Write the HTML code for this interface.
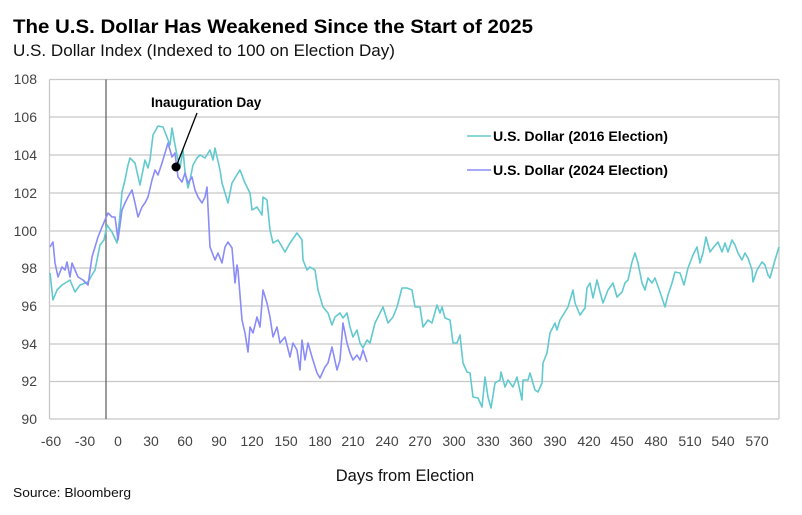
<!DOCTYPE html>
<html><head><meta charset="utf-8"><style>
body{margin:0;background:#fff;}
svg{display:block;font-family:"Liberation Sans",Arial,sans-serif;}
</style></head><body>
<svg width="802" height="515" viewBox="0 0 802 515" xmlns="http://www.w3.org/2000/svg">
<text x="13" y="33" font-size="19.5" font-weight="bold" fill="#000" textLength="520" lengthAdjust="spacingAndGlyphs">The U.S. Dollar Has Weakened Since the Start of 2025</text>
<text x="13" y="56" font-size="16.5" fill="#111" textLength="382" lengthAdjust="spacingAndGlyphs">U.S. Dollar Index (Indexed to 100 on Election Day)</text>
<g stroke="#c8c8c8" stroke-width="1.3">
<line x1="49.5" y1="79.5" x2="779" y2="79.5"/>
<line x1="49.5" y1="117" x2="779" y2="117"/>
<line x1="49.5" y1="155" x2="779" y2="155"/>
<line x1="49.5" y1="193" x2="779" y2="193"/>
<line x1="49.5" y1="231" x2="779" y2="231"/>
<line x1="49.5" y1="268" x2="779" y2="268"/>
<line x1="49.5" y1="306" x2="779" y2="306"/>
<line x1="49.5" y1="344" x2="779" y2="344"/>
<line x1="49.5" y1="381.5" x2="779" y2="381.5"/>
<line x1="49.5" y1="419" x2="779" y2="419"/>
<line x1="49.5" y1="79.5" x2="49.5" y2="419"/>
<line x1="779" y1="79.5" x2="779" y2="419"/>
</g>
<line x1="106" y1="79.5" x2="106" y2="419" stroke="#666" stroke-width="1.3"/>
<g font-size="14" fill="#444" text-anchor="end">
<text x="37" y="84">108</text><text x="37" y="122">106</text><text x="37" y="160">104</text>
<text x="37" y="198">102</text><text x="37" y="236">100</text><text x="37" y="273">98</text>
<text x="37" y="311">96</text><text x="37" y="349">94</text><text x="37" y="386">92</text><text x="37" y="424">90</text>
</g>
<g font-size="14" fill="#444" text-anchor="middle">
<text x="51" y="446">-60</text><text x="85" y="446">-30</text><text x="118" y="446">0</text>
<text x="151" y="446">30</text><text x="185" y="446">60</text><text x="219" y="446">90</text>
<text x="252" y="446">120</text><text x="286" y="446">150</text><text x="320" y="446">180</text>
<text x="353" y="446">210</text><text x="387" y="446">240</text><text x="420" y="446">270</text>
<text x="454" y="446">300</text><text x="488" y="446">330</text><text x="521" y="446">360</text>
<text x="555" y="446">390</text><text x="589" y="446">420</text><text x="622" y="446">450</text>
<text x="656" y="446">480</text><text x="690" y="446">510</text><text x="723" y="446">540</text><text x="757" y="446">570</text>
</g>
<text x="405" y="481" font-size="16.5" fill="#111" text-anchor="middle">Days from Election</text>
<text x="13" y="497" font-size="13" fill="#111" textLength="118" lengthAdjust="spacingAndGlyphs">Source: Bloomberg</text>
<polyline fill="none" stroke="#62c9cf" stroke-width="1.6" stroke-linejoin="round" points="50,273 53,300 57,290 62,285 70,280 75,292 80,285 88,282 92,275 95,270 100,245 104,240 107,225 112,232 117,243 120,215 122,192 125,180 128,165 130,158 135,163 140,185 145,160 148,168 150,160 153,135 158,126 163,127 165,132 170,145 172,128 175,145 178,160 180,168 183,150 185,172 188,188 190,180 193,165 197,158 200,155 205,158 210,150 213,160 215,148 220,170 222,183 225,193 228,203 232,183 238,173 240,170 245,183 250,193 252,210 257,207 262,215 263,197 267,200 270,230 273,243 278,240 285,252 290,243 297,233 302,240 303,260 307,270 310,267 315,270 318,290 323,307 328,313 332,325 335,317 340,313 343,318 347,313 350,327 353,337 357,330 360,343 363,348 367,340 370,343 375,323 380,313 383,307 388,323 393,317 397,307 402,288 407,288 412,290 415,307 420,307 423,327 428,320 432,323 437,305 440,313 442,307 445,318 450,320 453,343 457,343 460,335 463,363 467,372 470,373 473,397 478,398 482,407 485,377 488,397 491,408 495,383 500,380 501,372 505,387 508,380 513,387 517,377 522,400 523,380 528,380 530,373 535,390 538,392 542,383 543,363 547,353 550,333 555,323 557,330 560,320 565,312 568,307 573,290 575,303 580,315 585,308 587,288 590,283 593,298 597,280 600,292 603,303 608,290 613,283 617,297 622,292 625,283 628,280 632,262 635,253 638,263 642,283 645,290 648,278 652,283 655,278 660,292 665,307 668,295 672,283 675,272 680,273 684,285 688,268 693,255 697,247 700,263 703,253 706,237 710,252 713,248 718,242 722,252 725,243 728,252 732,240 735,245 738,253 742,260 745,253 748,258 752,270 753,282 757,270 762,262 765,265 768,275 770,278 775,260 779,247"/>
<polyline fill="none" stroke="#8a8cf7" stroke-width="1.6" stroke-linejoin="round" points="50,247 53,242 55,263 58,277 62,267 65,270 67,262 70,277 72,263 75,270 78,277 83,280 88,285 92,257 95,247 98,237 102,227 105,220 108,213 112,217 115,217 118,240 122,210 125,203 128,197 132,190 135,203 138,217 142,207 145,203 148,197 152,180 155,170 158,175 162,163 165,153 168,143 172,157 175,153 178,177 182,182 185,173 188,183 192,177 195,190 198,197 202,203 205,197 207,187 210,247 215,260 218,253 222,263 225,247 228,242 232,248 235,283 237,265 238,270 242,320 245,333 248,352 250,327 253,333 257,317 260,327 263,290 267,303 270,317 273,337 277,327 280,343 285,337 290,357 293,343 297,350 300,370 302,340 305,360 308,343 312,357 317,373 320,378 325,367 328,363 332,347 337,370 340,360 343,323 347,343 350,353 353,360 357,355 360,360 363,350 367,362"/>
<line x1="176" y1="167" x2="197" y2="113" stroke="#000" stroke-width="1.3"/>
<circle cx="176" cy="167" r="4.5" fill="#000"/>
<text x="151" y="107" font-size="13.5" font-weight="bold" fill="#000">Inauguration Day</text>
<line x1="467" y1="136" x2="491" y2="136" stroke="#62c9cf" stroke-width="1.6"/>
<text x="493" y="141" font-size="14" font-weight="bold" fill="#000" textLength="175" lengthAdjust="spacingAndGlyphs">U.S. Dollar (2016 Election)</text>
<line x1="467" y1="170" x2="491" y2="170" stroke="#8a8cf7" stroke-width="1.6"/>
<text x="493" y="175" font-size="14" font-weight="bold" fill="#000" textLength="175" lengthAdjust="spacingAndGlyphs">U.S. Dollar (2024 Election)</text>
</svg>
</body></html>
